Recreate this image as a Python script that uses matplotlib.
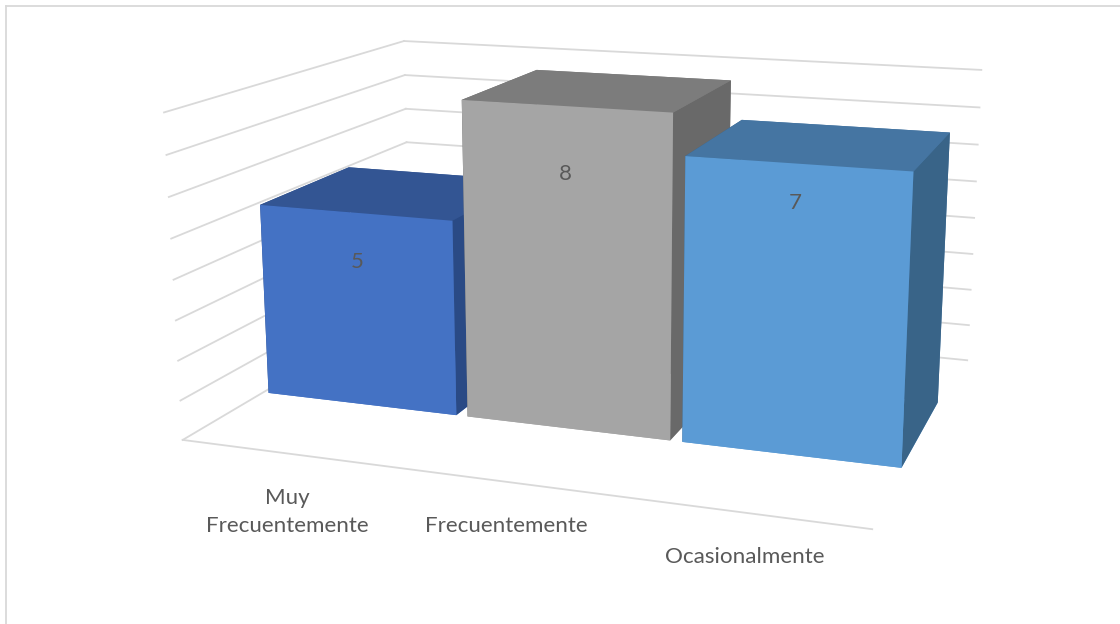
import matplotlib
matplotlib.use('Agg')
import matplotlib.pyplot as plt
from matplotlib.lines import Line2D

# Chart data
categories = ['Muy\nFrecuentemente', 'Frecuentemente', 'Ocasionalmente']
values = [5, 8, 7]
grid_levels = list(range(0, 9))

# Camera found by fitting the wall and bar corners against the picture
elev, azim, roll = 14.092, -70.631, 0.024
focal = 0.4060
aspect = (2.1012, 1.5819, 1)
bar_width = 0.9454
depth_front, depth_back = 0.3040, 0.6958
s, tx, ty = 4684.69, 600.47, 246.88

W, H = 1120, 624
plt.rcParams['font.family'] = ['Lato', 'DejaVu Sans']
TEXT = '#595959'
GRID = '#d9d9d9'

fig = plt.figure(figsize=(W / 100, H / 100), dpi=100)
L = s * 0.185
left = tx - 0.095 * s
bottom = H - ty - 0.095 * s
ax = fig.add_axes([left / W, bottom / H, L / W, L / H], projection='3d', computed_zorder=False)
ax.set_xlim(0, 3)
ax.set_ylim(0, 1)
ax.set_zlim(0, 8)
ax.view_init(elev, azim, roll)
ax.set_proj_type('persp', focal_length=focal)
ax.set_box_aspect(aspect)
ax.set_axis_off()
ax.patch.set_alpha(0)

# Walls and floor edge, small nudges where the fit was a few pixels off
back_start = 0.02
front_start, front_end = -0.009, 2.99
for z in grid_levels:
    ax.plot([front_start, back_start], [0, 1], [z, z], color=GRID, lw=1.3, zorder=1)
    ax.plot([back_start, 3], [1, 1], [z, z], color=GRID, lw=1.3, zorder=1)
ax.plot([front_start, front_end], [0, 0], [0, 0], color=GRID, lw=1.3, zorder=2)

# Faces in bar3d order: bottom, top, front, back, left, right
bar_faces = [['#4472C4', '#335593', '#4472C4', '#335593', '#2A4A85', '#2A4A85'],
             ['#A5A5A5', '#7C7C7C', '#A5A5A5', '#7C7C7C', '#696969', '#696969'],
             ['#5B9BD5', '#4575A2', '#5B9BD5', '#4575A2', '#396488', '#396488']]
for i, v in enumerate(values):
    ax.bar3d(i + 0.5 - bar_width / 2, depth_front, 0, bar_width, depth_back - depth_front, v,
             color=bar_faces[i], shade=False, zorder=3 + i)

# Value labels on the front faces
value_px = [(357, 262), (565, 174), (795, 203)]
for v, (x, y) in zip(values, value_px):
    fig.text(x / W, 1 - y / H, str(v), color=TEXT, fontsize=16, ha='center', va='center')

# Category labels under the floor edge
label_px = [(287, 512), (506, 526), (745, 557)]
for name, (x, y) in zip(categories, label_px):
    fig.text(x / W, 1 - y / H, name, color=TEXT, fontsize=16.1, ha='center', va='center',
             linespacing=1.52)

# Chart area border, only the top and left edges are in the picture
fig.add_artist(Line2D([6 / W, 6 / W], [0, 1 - 6 / H], color=GRID, lw=1.3))
fig.add_artist(Line2D([6 / W, 1], [1 - 6 / H, 1 - 6 / H], color=GRID, lw=1.3))

fig.savefig('out.png', dpi=100)
